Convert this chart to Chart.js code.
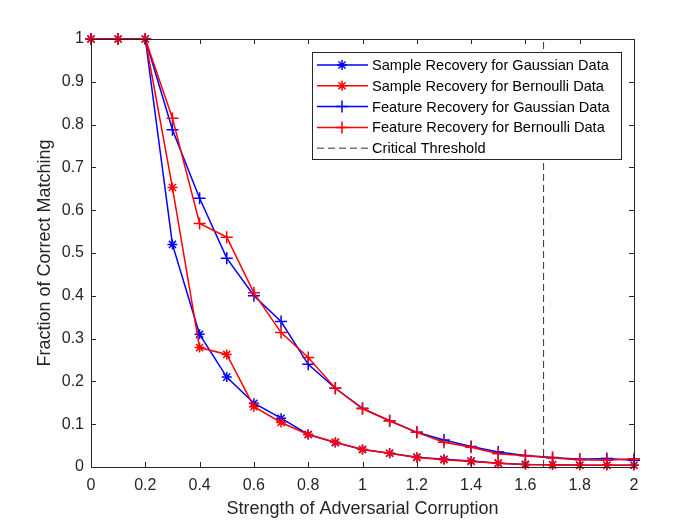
<!DOCTYPE html>
<html>
<head>
<meta charset="utf-8">
<script src="https://cdn.jsdelivr.net/npm/chart.js@4.4.0/dist/chart.umd.min.js"></script>
<style>
  html, body { margin: 0; padding: 0; background: #fff; }
  #wrap { width: 700px; height: 525px; }
</style>
</head>
<body>
<div id="wrap"><canvas id="myChart"></canvas></div>
<script>
// corruption strength on the x axis
var strength = [0, 0.1, 0.2, 0.3, 0.4, 0.5, 0.6, 0.7, 0.8, 0.9, 1.0,
                1.1, 1.2, 1.3, 1.4, 1.5, 1.6, 1.7, 1.8, 1.9, 2.0];

var sampleGaussian  = [1, 1, 1, 0.520, 0.310, 0.210, 0.149, 0.114, 0.076, 0.057, 0.041,
                       0.032, 0.023, 0.018, 0.014, 0.009, 0.006, 0.005, 0.004, 0.004, 0.004];
var sampleBernoulli = [1, 1, 1, 0.653, 0.279, 0.263, 0.141, 0.104, 0.076, 0.058, 0.041,
                       0.032, 0.022, 0.017, 0.013, 0.009, 0.006, 0.005, 0.004, 0.004, 0.004];
var featureGaussian  = [1, 1, 1, 0.788, 0.628, 0.488, 0.400, 0.340, 0.240, 0.184, 0.137,
                        0.108, 0.081, 0.063, 0.048, 0.035, 0.027, 0.022, 0.018, 0.020, 0.016];
var featureBernoulli = [1, 1, 1, 0.815, 0.569, 0.537, 0.407, 0.314, 0.256, 0.184, 0.136,
                        0.108, 0.081, 0.058, 0.046, 0.031, 0.026, 0.021, 0.017, 0.016, 0.019];

var criticalThreshold = 1.667;

var seriesNames = ['Sample Recovery for Gaussian Data', 'Sample Recovery for Bernoulli Data',
                   'Feature Recovery for Gaussian Data', 'Feature Recovery for Bernoulli Data',
                   'Critical Threshold'];

var xTicks = [0, 0.2, 0.4, 0.6, 0.8, 1, 1.2, 1.4, 1.6, 1.8, 2];
var yTicks = [0, 0.1, 0.2, 0.3, 0.4, 0.5, 0.6, 0.7, 0.8, 0.9, 1];

var BLUE = '#0000ff', RED = '#ff0000', AXIS = '#262626';
var FONT = '"Liberation Sans", Arial, Helvetica, sans-serif';

function pts(ys) {
    return strength.map(function(x, i) { return {x: x, y: ys[i]}; });
}

function series(name, ys, color, marker, order) {
    return {
        label: name, data: pts(ys),
        borderColor: color, backgroundColor: color,
        borderWidth: 1.5, pointStyle: marker,
        pointRadius: marker == 'star' ? 5 : 6, pointBorderWidth: 1.5,
        pointBorderColor: color, tension: 0, fill: false, clip: false, order: order
    };
}

// MATLAB style box, inward ticks and legend inside the axes
var matlabBox = {
    id: 'matlabBox',
    afterDraw: function(chart) {
        var ctx = chart.ctx, a = chart.chartArea;
        var xs = chart.scales.x, ys = chart.scales.y;
        ctx.save();
        ctx.strokeStyle = AXIS;
        ctx.lineWidth = 1;
        ctx.strokeRect(a.left + 0.5, a.top + 0.5, a.right - a.left, a.bottom - a.top);
        ctx.beginPath();
        xTicks.forEach(function(v) {
            var px = Math.round(xs.getPixelForValue(v)) + 0.5;
            ctx.moveTo(px, a.bottom); ctx.lineTo(px, a.bottom - 5);
            ctx.moveTo(px, a.top); ctx.lineTo(px, a.top + 5);
        });
        yTicks.forEach(function(v) {
            var py = Math.round(ys.getPixelForValue(v)) + 0.5;
            ctx.moveTo(a.left, py); ctx.lineTo(a.left + 5, py);
            ctx.moveTo(a.right, py); ctx.lineTo(a.right - 5, py);
        });
        ctx.stroke();

        // legend
        var lx = 312, ly = 52, lw = 309, lh = 107, row = 20.8;
        ctx.fillStyle = '#fff';
        ctx.fillRect(lx, ly, lw, lh);
        ctx.strokeStyle = AXIS;
        ctx.strokeRect(lx + 0.5, ly + 0.5, lw, lh);
        ctx.font = '14.6px ' + FONT;
        ctx.textBaseline = 'middle';
        chart.data.datasets.forEach(function(ds, i) {
            var cy = ly + 13 + i * row;
            ctx.save();
            ctx.strokeStyle = ds.borderColor;
            ctx.lineWidth = ds.borderWidth;
            if (ds.borderDash) ctx.setLineDash(ds.borderDash);
            ctx.beginPath();
            ctx.moveTo(lx + 5, cy); ctx.lineTo(lx + 56, cy);
            ctx.stroke();
            ctx.setLineDash([]);
            if (ds.pointStyle && ds.pointRadius > 0) {
                Chart.helpers.drawPoint(ctx, {pointStyle: ds.pointStyle, radius: ds.pointRadius,
                    borderWidth: ds.pointBorderWidth, rotation: 0}, lx + 30, cy);
            }
            ctx.restore();
            ctx.fillStyle = '#000';
            ctx.fillText(seriesNames[i], lx + 60, cy + 1);
        });
        ctx.restore();
    }
};

var ctx = document.getElementById('myChart').getContext('2d');
var myChart = new Chart(ctx, {
    type: 'line',
    data: {
        datasets: [
            series(seriesNames[0], sampleGaussian, BLUE, 'star', 4),
            series(seriesNames[1], sampleBernoulli, RED, 'star', 3),
            series(seriesNames[2], featureGaussian, BLUE, 'cross', 2),
            series(seriesNames[3], featureBernoulli, RED, 'cross', 1),
            {
                label: seriesNames[4],
                data: [{x: criticalThreshold, y: 0}, {x: criticalThreshold, y: 1}],
                borderColor: '#333', borderWidth: 1, borderDash: [7, 4],
                pointRadius: 0, fill: false, order: 0
            }
        ]
    },
    options: {
        responsive: true,
        maintainAspectRatio: false,
        animation: false,
        layout: { padding: { top: 39, right: 66, left: 0, bottom: 0 } },
        plugins: { legend: { display: false }, tooltip: { enabled: false } },
        scales: {
            x: {
                type: 'linear', min: 0, max: 2,
                afterBuildTicks: function(s) { s.ticks = xTicks.map(function(v) { return {value: v}; }); },
                afterFit: function(s) { s.height = 58; },
                grid: { display: false, drawTicks: false },
                border: { display: false },
                ticks: { color: AXIS, padding: 9, maxRotation: 0, font: { family: FONT, size: 16 },
                         callback: function(v) { return String(Math.round(v * 10) / 10); } },
                title: { display: true, text: 'Strength of Adversarial Corruption', color: AXIS,
                         font: { family: FONT, size: 18 }, padding: { top: 0, bottom: 5 } }
            },
            y: {
                min: 0, max: 1,
                afterBuildTicks: function(s) { s.ticks = yTicks.map(function(v) { return {value: v}; }); },
                afterFit: function(s) { s.width = 91; },
                grid: { display: false, drawTicks: false },
                border: { display: false },
                ticks: { color: AXIS, padding: 7, font: { family: FONT, size: 16 },
                         callback: function(v) { return String(Math.round(v * 10) / 10); } },
                title: { display: true, text: 'Fraction of Correct Matching', color: AXIS,
                         font: { family: FONT, size: 18 }, padding: { top: 34, bottom: 0 } }
            }
        }
    },
    plugins: [matlabBox]
});
</script>
</body>
</html>
